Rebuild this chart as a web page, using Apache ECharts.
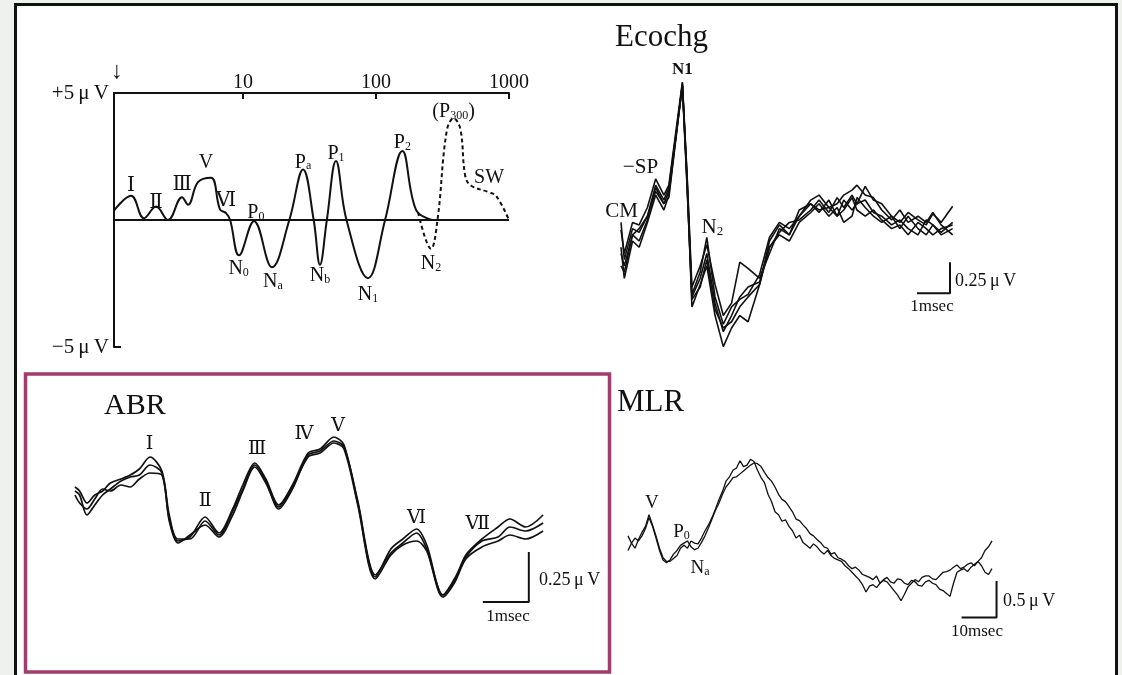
<!DOCTYPE html>
<html>
<head>
<meta charset="utf-8">
<script src="https://cdn.jsdelivr.net/npm/echarts@6/dist/echarts.min.js"></script>
<style>
html,body{margin:0;padding:0;background:#eef1ec;}
#main{width:1122px;height:675px;}
</style>
</head>
<body>
<div id="main"></div>
<script>
var FONT = "'Liberation Serif', 'DejaVu Serif', serif";
var INK = '#111';

// overview: latency (ms, log axis) / amplitude (uV)
var ovTicks = [10, 100, 1000];
var ovLat = [1.07, 1.44, 1.8, 2.22, 2.73, 3.48, 3.86, 4.59, 5.75, 6.71, 7.45, 8.0, 9.33, 12.1, 16.5, 22.3, 28.3, 34, 37.9, 42.7, 50, 60, 87, 117, 158, 200, 264];
var ovAmp = [0.37, 0.95, 0.07, 0.53, 0, 0.9, 0.6, 1.49, 1.66, 0.42, 0.27, 0, -1.39, -0.05, -1.86, 0, 1.99, 0, -1.76, 0, 2.32, 0, -2.29, 0, 2.72, 0.4, 0];
var ovLateLat = [207, 259, 290, 340, 383, 430, 470, 520, 700, 800, 1000];
var ovLateAmp = [0.3, -1.13, 0, 3.5, 4.0, 3.6, 1.7, 1.35, 1.1, 0.95, 0];
var ovBase = [1.07, 1000];
var ovPeakNames = ['Ⅰ', 'Ⅱ', 'Ⅲ', 'V', 'Ⅵ', 'P_{0}', 'N_{0}', 'N_{a}', 'P_{a}', 'N_{b}', 'P_{1}', 'N_{1}', 'P_{2}', 'N_{2}', '(P_{300})', 'SW'];
var ovPeakLat = [1.44, 2.22, 3.48, 5.27, 7.45, 12.5, 9.27, 16.8, 28.3, 37.9, 50, 87, 158, 259, 383, 708];
var ovPeakAmp = [1.39, 0.73, 1.43, 2.31, 0.8, 0.33, -1.87, -2.39, 2.31, -2.15, 2.63, -2.91, 3.07, -1.67, 4.3, 1.71];

// Ecochg (ms / uV), five sweeps
var ecT = [0, 0.1, 0.35, 0.55, 0.8, 1.05, 1.3, 1.45, 1.86, 2.0, 2.15, 2.4, 2.6, 2.85, 3.1, 3.35, 3.6, 3.85, 4.2, 4.5, 4.8, 5.1, 5.4, 5.75, 6.0, 6.3, 6.55, 6.75, 7.0, 7.15, 7.4, 7.65, 7.9, 8.2, 8.45, 8.7, 9.0, 9.25, 9.45, 9.7, 10.05];
var ec1 = [-0.16, -0.35, -0.1, -0.12, 0.02, 0.25, 0.12, 0.2, 1.03, 0.3, -0.62, -0.45, -0.28, -0.6, -0.85, -0.75, -0.42, -0.47, -0.55, -0.35, -0.15, -0.2, -0.05, 0.05, 0.0, 0.02, -0.05, 0.08, 0.0, 0.05, 0.19, 0.08, 0.05, -0.05, -0.1, -0.02, -0.08, -0.12, -0.03, -0.1, 0.03];
var ec2 = [-0.45, -0.5, -0.2, -0.25, -0.08, 0.18, 0.05, 0.15, 1.0, 0.2, -0.7, -0.55, -0.35, -0.75, -0.98, -0.85, -0.7, -0.62, -0.58, -0.3, -0.2, -0.25, -0.1, -0.02, 0.05, -0.05, 0.02, -0.1, -0.05, 0.1, 0.02, -0.05, -0.1, -0.05, -0.15, -0.05, -0.15, -0.2, -0.12, -0.18, -0.1];
var ec3 = [-0.3, -0.55, -0.25, -0.3, -0.1, 0.12, 0.0, 0.12, 1.02, 0.25, -0.78, -0.6, -0.45, -0.85, -1.1, -0.95, -0.85, -0.9, -0.6, -0.25, -0.12, -0.2, 0.0, 0.05, -0.02, 0.08, -0.05, 0.0, 0.1, 0.0, -0.05, 0.0, -0.08, -0.15, -0.12, -0.2, -0.1, -0.15, -0.2, -0.15, -0.12];
var ec4 = [-0.1, -0.4, -0.15, -0.18, -0.05, 0.2, 0.08, 0.18, 1.0, 0.28, -0.68, -0.5, -0.22, -0.7, -0.92, -0.78, -0.72, -0.68, -0.52, -0.22, -0.1, -0.15, -0.05, 0.08, 0.12, 0.02, 0.05, 0.12, 0.16, 0.2, 0.12, 0.1, 0.0, -0.08, 0.0, -0.1, -0.05, -0.1, -0.02, -0.12, -0.2];
var ec5 = [-0.35, -0.45, -0.2, -0.15, -0.05, 0.15, 0.05, 0.1, 1.01, 0.22, -0.72, -0.62, -0.4, -0.8, -0.95, -0.9, -0.78, -0.7, -0.6, -0.3, -0.18, -0.1, -0.08, 0.0, 0.08, -0.02, 0.1, 0.02, 0.12, 0.05, 0.08, -0.02, -0.05, -0.12, -0.08, -0.15, -0.2, -0.08, -0.12, -0.2, -0.15];
var ecNames = ['!N1', '−SP', 'CM', 'N_{2}'];
var ecNameT = [1.86, 0.59, 0.02, 2.77];
var ecNameV = [1.13, 0.35, 0.0, -0.13];
var ecBarT = [8.97, 9.97, 9.97];
var ecBarV = [-0.67, -0.67, -0.42];

// ABR (ms / uV), three sweeps
var abrT = [0, 0.1, 0.26, 0.43, 0.6, 0.77, 1.0, 1.2, 1.4, 1.63, 1.89, 2.05, 2.24, 2.5, 2.83, 3.13, 3.43, 3.65, 3.91, 4.15, 4.43, 4.73, 5.07, 5.33, 5.63, 5.85, 6.15, 6.53, 6.87, 7.13, 7.43, 7.65, 8.0, 8.25, 8.5, 8.85, 9.2, 9.46, 9.8, 10.18];
var abr1 = [0.14, 0.12, 0.06, 0.1, 0.12, 0.16, 0.18, 0.2, 0.23, 0.29, 0.22, 0.0, -0.13, -0.11, -0.01, -0.09, 0.03, 0.15, 0.26, 0.18, 0.05, 0.15, 0.31, 0.33, 0.39, 0.35, 0.06, -0.31, -0.17, -0.12, -0.07, -0.15, -0.4, -0.33, -0.2, -0.12, -0.06, -0.02, -0.06, 0.0];
var abr2 = [0.12, 0.1, 0.0, 0.05, 0.1, 0.13, 0.17, 0.19, 0.2, 0.25, 0.21, -0.02, -0.12, -0.12, -0.03, -0.1, 0.02, 0.13, 0.25, 0.17, 0.03, 0.13, 0.3, 0.32, 0.37, 0.34, 0.07, -0.3, -0.19, -0.14, -0.09, -0.17, -0.4, -0.32, -0.21, -0.13, -0.11, -0.06, -0.08, -0.04];
var abr3 = [0.1, 0.06, 0.03, 0.08, 0.13, 0.12, 0.15, 0.14, 0.18, 0.21, 0.2, -0.03, -0.14, -0.1, -0.05, -0.11, 0.0, 0.12, 0.24, 0.16, 0.04, 0.14, 0.29, 0.31, 0.36, 0.33, 0.05, -0.32, -0.2, -0.15, -0.13, -0.18, -0.41, -0.34, -0.22, -0.16, -0.13, -0.1, -0.12, -0.08];
var abrNames = ['Ⅰ', 'Ⅱ', 'Ⅲ', 'Ⅳ', 'Ⅴ', 'Ⅵ', 'Ⅶ'];
var abrNameT = [1.62, 2.83, 3.96, 4.98, 5.72, 7.43, 8.76];
var abrNameV = [0.36, 0.075, 0.335, 0.41, 0.45, -0.01, -0.04];
var abrBarT = [8.87, 9.87, 9.87];
var abrBarV = [-0.435, -0.435, -0.185];

// MLR (ms / uV), two sweeps, 1 ms apart
var mlrT = [0, 1, 2, 3, 4, 5, 6, 7, 8, 9, 10, 11, 12, 13, 14, 15, 16, 17, 18, 19, 20, 21, 22, 23, 24, 25, 26, 27, 28, 29, 30, 31, 32, 33, 34, 35, 36, 37, 38, 39, 40, 41, 42, 43, 44, 45, 46, 47, 48, 49, 50, 51, 52, 53, 54, 55, 56, 57, 58, 59, 60, 61, 62, 63, 64, 65, 66, 67, 68, 69, 70, 71, 72, 73, 74, 75, 76, 77, 78, 79, 80, 81, 82, 83, 84, 85, 86, 87, 88, 89, 90, 91, 92, 93, 94, 95, 96, 97, 98, 99, 100, 101, 102, 103, 104];
var mlr1 = [0.05, -0.05, -0.12, 0.0, 0.1, 0.18, 0.34, 0.2, 0.05, -0.12, -0.25, -0.3, -0.3, -0.26, -0.22, -0.12, -0.08, -0.12, -0.02, -0.05, -0.06, 0.02, 0.12, 0.2, 0.3, 0.42, 0.55, 0.66, 0.8, 0.86, 0.95, 0.98, 1.08, 1.0, 1.02, 1.1, 1.07, 0.95, 0.85, 0.78, 0.62, 0.52, 0.38, 0.34, 0.25, 0.27, 0.18, 0.12, 0.02, 0.06, -0.04, -0.08, -0.12, -0.06, -0.1, -0.16, -0.2, -0.15, -0.22, -0.26, -0.28, -0.3, -0.36, -0.4, -0.45, -0.5, -0.55, -0.62, -0.72, -0.64, -0.62, -0.66, -0.6, -0.55, -0.52, -0.58, -0.6, -0.54, -0.55, -0.6, -0.62, -0.56, -0.58, -0.63, -0.64, -0.58, -0.56, -0.6, -0.62, -0.68, -0.7, -0.74, -0.78, -0.6, -0.45, -0.42, -0.4, -0.44, -0.38, -0.34, -0.3, -0.25, -0.15, -0.1, -0.02];
var mlr2 = [-0.15, -0.05, 0.02, -0.02, 0.05, 0.15, 0.3, 0.18, 0.02, -0.15, -0.28, -0.32, -0.28, -0.2, -0.15, -0.08, -0.05, -0.02, -0.1, -0.14, -0.12, -0.04, 0.05, 0.16, 0.28, 0.4, 0.5, 0.62, 0.72, 0.78, 0.85, 0.86, 0.9, 0.94, 0.98, 1.02, 1.05, 1.04, 1.0, 0.92, 0.85, 0.8, 0.72, 0.62, 0.55, 0.52, 0.45, 0.38, 0.28, 0.26, 0.2, 0.15, 0.08, 0.05, 0.0, -0.04, -0.1, -0.12, -0.2, -0.18, -0.25, -0.27, -0.3, -0.36, -0.4, -0.38, -0.42, -0.48, -0.5, -0.52, -0.55, -0.5, -0.6, -0.56, -0.58, -0.64, -0.7, -0.76, -0.84, -0.75, -0.65, -0.6, -0.55, -0.58, -0.52, -0.5, -0.5, -0.54, -0.55, -0.5, -0.45, -0.44, -0.42, -0.38, -0.35, -0.4, -0.38, -0.34, -0.32, -0.36, -0.3, -0.36, -0.45, -0.48, -0.4];
var mlrNames = ['V', 'P_{0}', 'N_{a}', 'P_{a}'];
var mlrNameT = [6.8, 15.3, 20.6, 32.9];
var mlrNameV = [0.51, 0.11, -0.38, 1.23];
var mlrBarT = [95.3, 105.3, 105.3];
var mlrBarV = [-1.07, -1.07, -0.57];

function richLabel(txt) {
    if (txt.charAt(0) === '!') return '{b|' + txt.slice(1) + '}';
    var s = '{m|' + txt.replace(/_\{([^}]*)\}/g, '}{s|$1}{m|') + '}';
    return s.replace(/\{m\|\}/g, '');
}

function pairs(xs, ys, logX) {
    return xs.map(function (x, i) { return [logX ? Math.log10(x) : x, ys[i]]; });
}

function trace(gi, xs, ys, width, extra) {
    var s = {
        type: 'line', xAxisIndex: gi, yAxisIndex: gi, data: pairs(xs, ys, gi === 0),
        symbol: 'none', silent: true, clip: false,
        lineStyle: { color: INK, width: width }
    };
    for (var k in extra) s[k] = extra[k];
    return s;
}

function labels(gi, names, xs, ys, size, boldSize) {
    var sub = Math.round(size * 0.62);
    return {
        type: 'scatter', xAxisIndex: gi, yAxisIndex: gi, symbolSize: 0, silent: true, z: 5,
        itemStyle: { color: INK, opacity: 1 },
        data: names.map(function (n, i) {
            return { value: [gi === 0 ? Math.log10(xs[i]) : xs[i], ys[i]], name: n };
        }),
        label: {
            show: true, position: [0, 0], align: 'center', verticalAlign: 'middle',
            color: INK, opacity: 1, textBorderWidth: 0, fontFamily: FONT, fontSize: size,
            formatter: function (p) { return richLabel(p.name); },
            rich: {
                m: { fontFamily: FONT, fontSize: size, color: INK, lineHeight: size + 2, verticalAlign: 'bottom', textBorderWidth: 0 },
                s: { fontFamily: FONT, fontSize: sub, color: INK, lineHeight: sub, verticalAlign: 'bottom', textBorderWidth: 0 },
                b: { fontFamily: FONT, fontSize: boldSize || size, color: INK, fontWeight: 'bold', textBorderWidth: 0 }
            }
        }
    };
}

function txt(t, x, y, size, align) {
    return {
        type: 'text', silent: true, z: 10,
        style: { text: t, x: x, y: y, font: size + 'px ' + FONT, fill: INK, textAlign: align || 'left', textVerticalAlign: 'middle' }
    };
}

var hidden = { show: false };
var myChart = echarts.init(document.getElementById('main'));
var option = {
    backgroundColor: '#eef1ec',
    animation: false,
    grid: [
        { left: 114, top: 93, width: 395, height: 254 },
        { left: 621, top: 61, width: 330, height: 298 },
        { left: 75, top: 415, width: 469, height: 200 },
        { left: 628, top: 452, width: 371, height: 175 }
    ],
    xAxis: [
        {
            gridIndex: 0, type: 'value', position: 'top', min: 0.03, max: 3,
            axisLine: { show: true, onZero: false, lineStyle: { color: INK, width: 2 } },
            axisTick: { show: true, inside: true, length: 6, customValues: ovTicks.map(Math.log10), lineStyle: { color: INK, width: 2 } },
            axisLabel: {
                customValues: ovTicks.map(Math.log10), margin: 0, color: INK, fontFamily: FONT, fontSize: 20,
                formatter: function (v) { return String(Math.round(Math.pow(10, v))); }
            },
            splitLine: hidden
        },
        { gridIndex: 1, type: 'value', show: false, min: 0, max: 10 },
        { gridIndex: 2, type: 'value', show: false, min: 0, max: 10.2 },
        { gridIndex: 3, type: 'value', show: false, min: 0, max: 106 }
    ],
    yAxis: [
        {
            gridIndex: 0, type: 'value', min: -5, max: 5,
            axisLine: { show: true, onZero: false, lineStyle: { color: INK, width: 2 } },
            axisTick: { show: true, inside: true, length: 7, customValues: [-5], lineStyle: { color: INK, width: 2 } },
            axisLabel: {
                customValues: [-5, 5], margin: 5, color: INK, fontFamily: FONT, fontSize: 21,
                formatter: function (v) { return v > 0 ? '+5\u2009μ\u2009V' : '−5\u2009μ\u2009V'; }
            },
            splitLine: hidden
        },
        { gridIndex: 1, type: 'value', show: false, min: -1.2, max: 1.2 },
        { gridIndex: 2, type: 'value', show: false, min: -0.5, max: 0.5 },
        { gridIndex: 3, type: 'value', show: false, min: -1.2, max: 1.2 }
    ],
    series: [
        trace(0, ovBase, [0, 0], 2),
        trace(0, ovLat, ovAmp, 2, { smooth: 0.4 }),
        trace(0, ovLateLat, ovLateAmp, 2, { smooth: 0.4, lineStyle: { color: INK, width: 2, type: [4, 3] } }),
        labels(0, ovPeakNames, ovPeakLat, ovPeakAmp, 20),

        trace(1, ecT, ec1, 1.6),
        trace(1, ecT, ec2, 1.6),
        trace(1, ecT, ec3, 1.6),
        trace(1, ecT, ec4, 1.6),
        trace(1, ecT, ec5, 1.6),
        trace(1, ecBarT, ecBarV, 2),
        labels(1, ecNames, ecNameT, ecNameV, 21, 17),

        trace(2, abrT, abr1, 1.7, { smooth: 0.3 }),
        trace(2, abrT, abr2, 1.7, { smooth: 0.3 }),
        trace(2, abrT, abr3, 1.7, { smooth: 0.3 }),
        trace(2, abrBarT, abrBarV, 2),
        labels(2, abrNames, abrNameT, abrNameV, 19),

        trace(3, mlrT, mlr1, 1.3),
        trace(3, mlrT, mlr2, 1.3),
        trace(3, mlrBarT, mlrBarV, 2),
        labels(3, mlrNames, mlrNameT, mlrNameV, 19)
    ],
    graphic: [
        { type: 'rect', silent: true, z: -10, shape: { x: 15.5, y: 4.5, width: 1101, height: 720 }, style: { fill: '#fff', stroke: INK, lineWidth: 3 } },
        { type: 'rect', silent: true, z: -5, shape: { x: 25.5, y: 374, width: 584, height: 298 }, style: { fill: null, stroke: '#a03c6e', lineWidth: 3.5 } },
        txt('↓', 117, 72, 24, 'center'),
        txt('Ecochg', 615, 38, 31),
        txt('ABR', 104, 406, 30),
        txt('MLR', 617, 403, 31),
        txt('0.25\u2009μ\u2009V', 955, 281, 18),
        txt('1msec', 932, 307, 17, 'center'),
        txt('0.25\u2009μ\u2009V', 539, 580, 18),
        txt('1msec', 508, 617, 17, 'center'),
        txt('0.5\u2009μ\u2009V', 1003, 601, 18),
        txt('10msec', 977, 632, 17, 'center')
    ]
};
myChart.setOption(option);
</script>
</body>
</html>
